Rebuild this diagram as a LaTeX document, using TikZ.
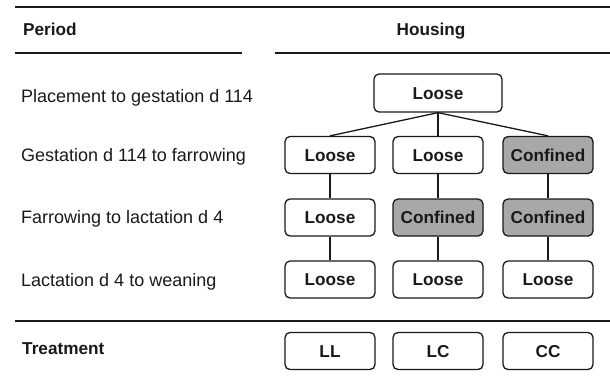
\documentclass[tikz,border=0pt]{standalone}
\usepackage{fontspec}
\setmainfont{Liberation Sans}
\definecolor{ink}{RGB}{25,25,25}
\definecolor{boxgray}{RGB}{168,168,168}
\tikzset{
  lbl/.style={anchor=west, inner sep=0pt, text height=13pt, text depth=0pt, text=ink, font=\fontsize{18}{21}\selectfont},
  hdr/.style={anchor=west, inner sep=0pt, text height=12.4pt, text depth=0pt, text=ink, font=\fontsize{17.2}{20}\selectfont\bfseries},
  hbox/.style={draw=ink, line width=1.3pt, rounded corners=5pt, fill=white, minimum width=90pt, minimum height=37pt, inner sep=0pt, text height=12.4pt, text depth=0pt, text=ink, font=\fontsize{17.2}{20}\selectfont\bfseries},
  conf/.style={hbox, fill=boxgray},
  rule/.style={draw=ink, line width=1.3pt},
  link/.style={draw=ink, line width=1.3pt}
}
\begin{document}
\begin{tikzpicture}[x=1pt,y=-1pt]
\useasboundingbox (0,0) rectangle (610,381);
% rules
\draw[rule, line width=2pt] (15,7) -- (610,7);
\draw[rule] (15,53) -- (242,53);
\draw[rule] (275,53) -- (610,53);
\draw[rule] (15,321) -- (610,321);
% headers and period labels
\node[hdr] (period) at (23,29.5) {Period};
\node[hdr, anchor=center] (housing) at (431,29.5) {Housing};
\node[lbl] (p1) at (21,96) {Placement to gestation d 114};
\node[lbl] (p2) at (21,155) {Gestation d 114 to farrowing};
\node[lbl] (p3) at (21,217) {Farrowing to lactation d 4};
\node[lbl] (p4) at (21,280) {Lactation d 4 to weaning};
\node[hdr] (treat) at (22,348) {Treatment};
% housing boxes
\node[hbox, minimum width=128pt, minimum height=38pt] (top) at (438,93) {Loose};
\node[hbox] (a2) at (330,155) {Loose};
\node[hbox] (b2) at (438,155) {Loose};
\node[conf] (c2) at (548,155) {Confined};
\node[hbox] (a3) at (330,217.5) {Loose};
\node[conf] (b3) at (438,217.5) {Confined};
\node[conf] (c3) at (548,217.5) {Confined};
\node[hbox] (a4) at (330,279.5) {Loose};
\node[hbox] (b4) at (438,279.5) {Loose};
\node[hbox] (c4) at (548,279.5) {Loose};
\node[hbox] (ll) at (330,351) {LL};
\node[hbox] (lc) at (438,351) {LC};
\node[hbox] (cc) at (548,351) {CC};
% connectors
\draw[link] (top.south) -- (a2.north);
\draw[link] (top.south) -- (b2.north);
\draw[link] (top.south) -- (c2.north);
\draw[link] (a2) -- (a3);
\draw[link] (b2) -- (b3);
\draw[link] (c2) -- (c3);
\draw[link] (a3) -- (a4);
\draw[link] (b3) -- (b4);
\draw[link] (c3) -- (c4);
\end{tikzpicture}
\end{document}
